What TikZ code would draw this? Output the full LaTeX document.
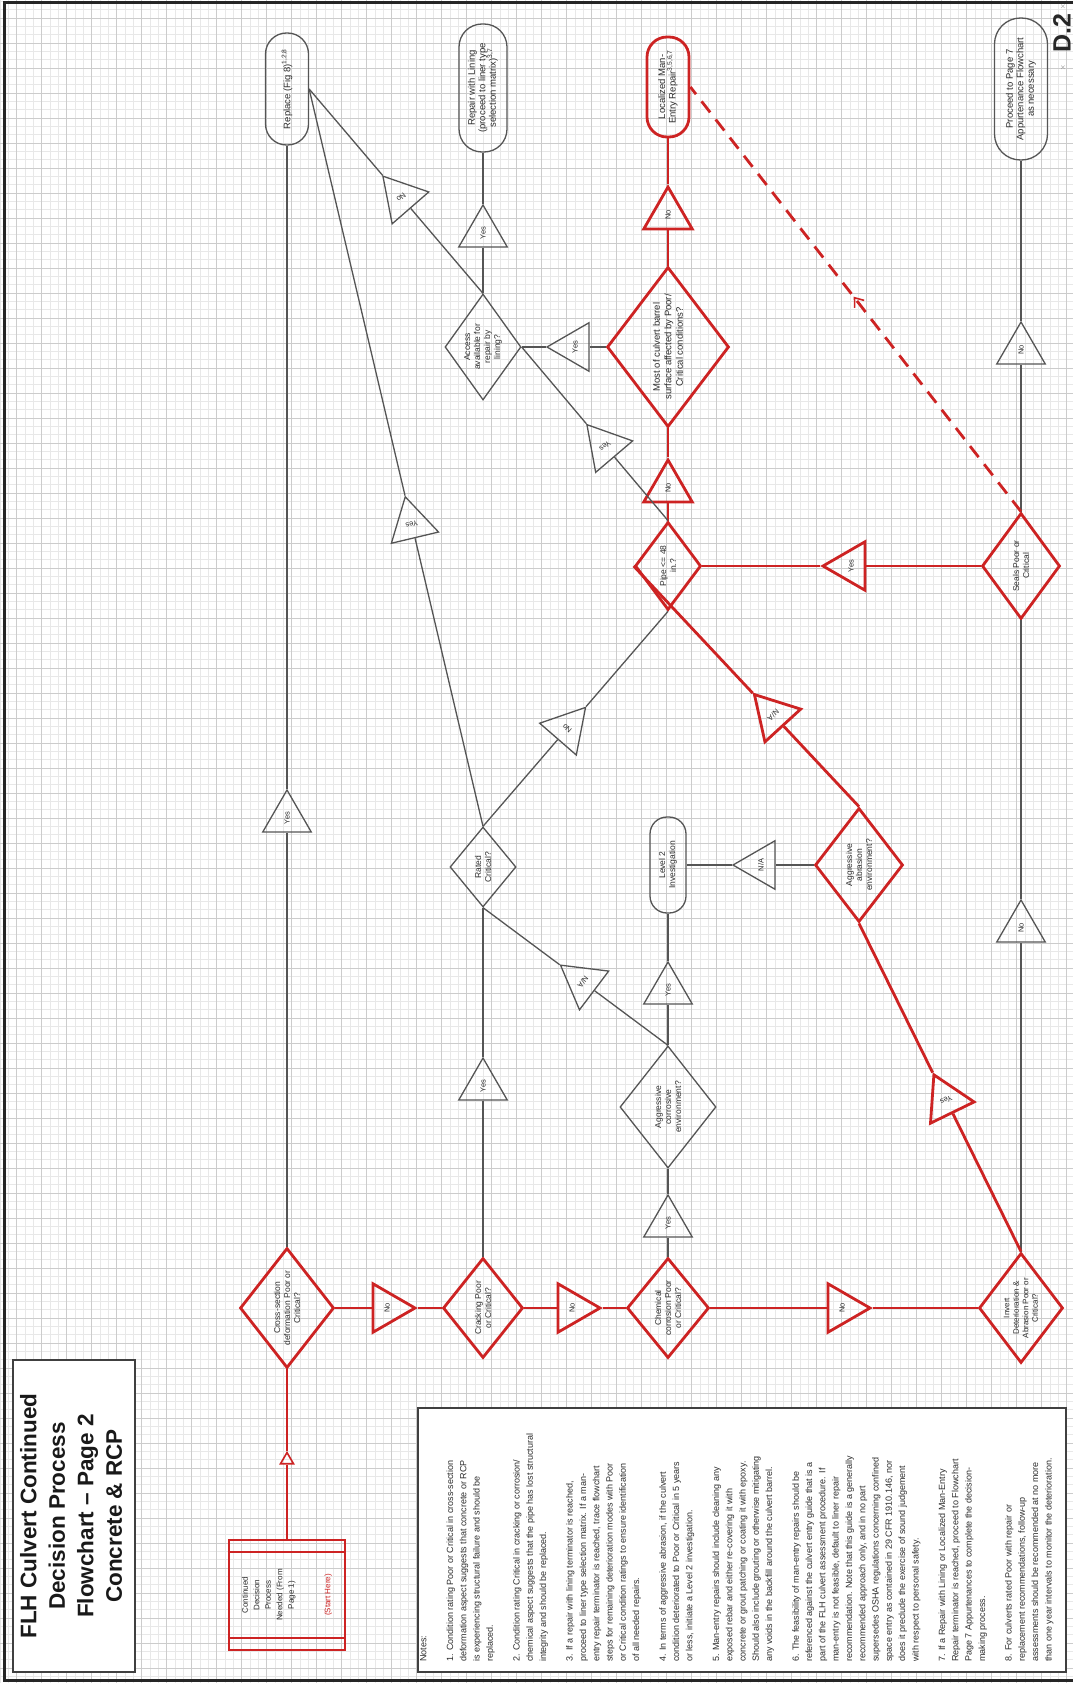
\documentclass[tikz,border=0pt]{standalone}
\usepackage{fontspec}
\setmainfont{Liberation Sans}
\usetikzlibrary{shapes.geometric,calc,decorations.markings}
\definecolor{fred}{RGB}{205,35,35}
\definecolor{fgrey}{RGB}{85,85,85}
\definecolor{ftext}{RGB}{45,45,45}
\begin{document}
\begin{tikzpicture}[x=1pt,y=-1pt,
  gminor/.style={draw=black!9, line width=0.5pt},
  gmajor/.style={draw=black!20, line width=0.7pt},
  gl/.style={draw=fgrey, line width=1.3pt},
  rl/.style={draw=fred, line width=2.8pt},
  gshape/.style={draw=fgrey, line width=1.3pt, inner sep=0pt},
  rshape/.style={draw=fred, line width=2.8pt, inner sep=0pt},
  dia/.style={diamond, inner sep=0pt},
  tri/.style={regular polygon, regular polygon sides=3, minimum size=56pt, inner sep=0pt},
  term/.style={rectangle, inner sep=0pt},
  ntxt/.style={rotate=90, align=center, text=ftext, font=\fontsize{8.5}{10}\selectfont, inner sep=0pt},
  tmtxt/.style={rotate=90, align=center, text=ftext, font=\fontsize{9.5}{10.5}\selectfont, inner sep=0pt},
  ttxt/.style={align=center, text=ftext, font=\fontsize{7.5}{9}\selectfont, inner sep=0pt},
  reddash/.style={draw=fred, line width=2.8pt, dash pattern=on 14pt off 9pt}
]
\useasboundingbox (0,0) rectangle (1073,1683);
\fill[white] (0,0) rectangle (1073,1683);
% grid
\foreach \i in {0,...,128} \draw[gminor] ({8.3333*\i},0) -- ({8.3333*\i},1683);
\foreach \i in {0,...,201} \draw[gminor] (0,{1.33+8.3333*\i}) -- (1073,{1.33+8.3333*\i});
\foreach \i in {0,...,42} \draw[gmajor] ({16.667+25*\i},0) -- ({16.667+25*\i},1683);
\foreach \i in {0,...,66} \draw[gmajor] (0,{18+25*\i}) -- (1073,{18+25*\i});
% page frame
\draw[line width=3pt, black!85] (1073,2.5) -- (4,2.5) -- (4,1680.5) -- (1073,1680.5);

% title
\node[draw=black!75, line width=1.2pt, fill=white, minimum width=122pt, minimum height=312pt, inner sep=0pt] (titlebox) at (74,1516) {};
\node[rotate=90, align=center, font=\fontsize{22.5}{28.5}\selectfont\bfseries, text=black!90] (title) at (71,1516) {FLH Culvert Continued\\Decision Process\\Flowchart \textendash{} Page 2\\Concrete \& RCP};

% notes
\node[draw=black!75, line width=1.2pt, fill=white, minimum width=648pt, minimum height=264pt, inner sep=0pt] (notesbox) at (742,1540) {};
\node[rotate=90, anchor=north west, align=left, inner sep=0pt, font=\fontsize{9}{13.3}\selectfont, text=ftext] (notes) at (420,1662) {Notes:\\[13.3pt]
1. Condition rating Poor or Critical in cross-section\\
deformation aspect suggests that concrete or RCP\\
is experiencing structural failure and should be\\
replaced.\\[13.3pt]
2. Condition rating Critical in cracking or corrosion/\\
chemical aspect suggests that the pipe has lost structural\\
integrity and should be replaced.\\[13.3pt]
3. If a repair with lining terminator is reached,\\
proceed to liner type selection matrix. If a man-\\
entry repair terminator is reached, trace flowchart\\
steps for remaining deterioration modes with Poor\\
or Critical condition ratings to ensure identification\\
of all needed repairs.\\[13.3pt]
4. In terms of aggressive abrasion, if the culvert\\
condition deteriorated to Poor or Critical in 5 years\\
or less, initiate a Level 2 investigation.\\[13.3pt]
5. Man-entry repairs should include cleaning any\\
exposed rebar and either re-covering it with\\
concrete or grout patching or coating it with epoxy.\\
Should also include grouting or otherwise mitigating\\
any voids in the backfill around the culvert barrel.\\[13.3pt]
6. The feasibility of man-entry repairs should be\\
referenced against the culvert entry guide that is a\\
part of the FLH culvert assessment procedure. If\\
man-entry is not feasible, default to liner repair\\
recommendation. Note that this guide is a generally\\
recommended approach only, and in no part\\
supersedes OSHA regulations concerning confined\\
space entry as contained in 29 CFR 1910.146, nor\\
does it preclude the exercise of sound judgement\\
with respect to personal safety.\\[13.3pt]
7. If a Repair with Lining or Localized Man-Entry\\
Repair terminator is reached, proceed to Flowchart\\
Page 7 Appurtenances to complete the decision-\\
making process.\\[13.3pt]
8. For culverts rated Poor with repair or\\
replacement recommendations, follow-up\\
assessments should be recommended at no more\\
than one year intervals to monitor the deterioration.};

% page label
\node[rotate=90, font=\fontsize{25}{25}\selectfont\bfseries, text=black!85, inner sep=0pt] (pagelabel) at (1062,33) {D.2};
\node[font=\fontsize{7}{7}\selectfont, text=black!55, inner sep=0pt] (xa) at (1063,7) {$\times$};
\node[font=\fontsize{7}{7}\selectfont, text=black!55, inner sep=0pt] (xb) at (1063,68) {$\times$};

% start box
\node[rectangle, draw=fred, line width=2.6pt, minimum width=116pt, minimum height=110pt, inner sep=0pt] (start) at (287,1595) {};
\draw[fred, line width=2pt] ($(start.north west)+(0,13)$) -- ($(start.north east)+(0,13)$);
\draw[fred, line width=2pt] ($(start.south west)+(0,-13)$) -- ($(start.south east)+(0,-13)$);
\node[rotate=90, align=center, font=\fontsize{8}{11.5}\selectfont, text=ftext] (starttxt) at (start) {Continued\\Decision\\Process\\Needed (From\\Page 1)\\[25pt]\textcolor{fred}{(Start Here)}};
\node[tri, rshape, minimum size=15pt, line width=1.6pt] (mk) at (287,1460) {};

% diamonds
\node[dia, rshape, minimum width=94pt, minimum height=120pt, label={[ntxt]center:{Cross-section\\deformation Poor or\\Critical?}}] (d1) at (287,1308) {};
\node[dia, rshape, minimum width=80pt, minimum height=100pt, label={[ntxt]center:{Cracking Poor\\or Critical?}}] (d2) at (483,1308) {};
\node[dia, rshape, minimum width=82pt, minimum height=100pt, label={[ntxt]center:{Chemical\\corrosion Poor\\or Critical?}}] (d3) at (668,1308) {};
\node[dia, rshape, minimum width=84pt, minimum height=110pt, label={[ntxt, font=\fontsize{8}{9.5}\selectfont]center:{Invert\\Deterioration \&\\Abrasion Poor or\\Critical?}}] (d4) at (1021,1308) {};
\node[dia, gshape, minimum width=66pt, minimum height=80pt, label={[ntxt]center:{Rated\\Critical?}}] (rated) at (483,867) {};
\node[dia, gshape, minimum width=96pt, minimum height=122pt, label={[ntxt]center:{Aggressive\\corrosive\\environment?}}] (aggcor) at (668,1107) {};
\node[dia, rshape, minimum width=88pt, minimum height=114pt, label={[ntxt]center:{Aggressive\\abrasion\\environment?}}] (aggabr) at (859,865) {};
\node[dia, rshape, minimum width=66pt, minimum height=88pt, label={[ntxt]center:{Pipe <= 48\\in.?}}] (pipe) at (668,566) {};
\node[dia, rshape, minimum width=78pt, minimum height=106pt, label={[ntxt]center:{Seals Poor or\\Critical}}] (seals) at (1021,566) {};
\node[dia, rshape, minimum width=122pt, minimum height=160pt, label={[ntxt, font=\fontsize{9.5}{11.5}\selectfont]center:{Most of culvert barrel\\surface affected by Poor/\\Critical conditions?}}] (most) at (668,347) {};
\node[dia, gshape, minimum width=76pt, minimum height=106pt, label={[ntxt]center:{Access\\available for\\repair by\\lining?}}] (access) at (483,347) {};

% terminals
\node[term, gshape, rounded corners=21pt, minimum width=43pt, minimum height=112pt, label={[tmtxt]center:{Replace (Fig 8)\textsuperscript{1,2,8}}}] (replace) at (287,89) {};
\node[term, gshape, rounded corners=23pt, minimum width=48pt, minimum height=128pt, label={[tmtxt]center:{Repair with Lining\\(proceed to liner type\\selection matrix)\textsuperscript{3,7}}}] (repair) at (483,88) {};
\node[term, rshape, rounded corners=20pt, minimum width=42pt, minimum height=100pt, label={[tmtxt]center:{Localized Man-\\Entry Repair\textsuperscript{3,5,6,7}}}] (localized) at (668,87) {};
\node[term, gshape, rounded corners=26pt, minimum width=53pt, minimum height=142pt, label={[tmtxt]center:{Proceed to Page 7\\Appurtenance Flowchart\\as necessary}}] (proceed) at (1021,89) {};
\node[term, gshape, rounded corners=17pt, minimum width=36pt, minimum height=96pt, label={[ntxt]center:{Level 2\\Investigation}}] (level2) at (668,865) {};

% straight triangles
\node[tri, rshape, shape border rotate=-90, label={[ttxt, rotate=90]center:No}] (tc1) at (387,1308) {};
\node[tri, rshape, shape border rotate=-90, label={[ttxt, rotate=90]center:No}] (tc2) at (572,1308) {};
\node[tri, rshape, shape border rotate=-90, label={[ttxt, rotate=90]center:No}] (tc3) at (842,1308) {};
\node[tri, gshape, label={[ttxt, rotate=90]center:Yes}] (tym) at (287,818) {};
\node[tri, gshape, label={[ttxt, rotate=90]center:Yes}] (ty2) at (483,1086) {};
\node[tri, gshape, label={[ttxt, rotate=90]center:Yes}] (ty3) at (668,1223) {};
\node[tri, gshape, label={[ttxt, rotate=90]center:Yes}] (tyl2) at (668,990) {};
\node[tri, gshape, shape border rotate=90, label={[ttxt, rotate=90]center:N/A}] (tnl2) at (761,865) {};
\node[tri, gshape, label={[ttxt, rotate=90]center:No}] (tnd4) at (1021,928) {};
\node[tri, gshape, label={[ttxt, rotate=90]center:No}] (tns) at (1021,350) {};
\node[tri, rshape, shape border rotate=90, label={[ttxt, rotate=90]center:Yes}] (tsp) at (851,566) {};
\node[tri, rshape, label={[ttxt, rotate=90]center:No}] (tpm) at (668,488) {};
\node[tri, rshape, label={[ttxt, rotate=90]center:No}] (tml) at (668,215) {};
\node[tri, gshape, label={[ttxt, rotate=90]center:Yes}] (tya) at (483,233) {};
\node[tri, gshape, shape border rotate=90, label={[ttxt, rotate=90]center:Yes}] (tma) at (575,347) {};

% diagonal triangles
\node[tri, gshape, shape border rotate=40.4, label={[ttxt, rotate=220.4]center:Yes}] (tpa) at ($(pipe.north)!0.43!(access.east)$) {};
\node[tri, gshape, shape border rotate=41, label={[ttxt, rotate=221]center:No}] (tar) at ($(access.north)!0.47!(replace.east)$) {};
\node[tri, gshape, shape border rotate=13.4, label={[ttxt, rotate=193.4]center:Yes}] (trr) at ($(rated.north)!0.41!(replace.east)$) {};
\node[tri, gshape, shape border rotate=-41, label={[ttxt, rotate=139]center:No}] (trp) at ($(rated.north)!0.455!(pipe.south)$) {};
\node[tri, gshape, shape border rotate=53, label={[ttxt, rotate=233]center:N/A}] (tac) at ($(aggcor.north)!0.46!(rated.south)$) {};
\node[tri, rshape, shape border rotate=26, label={[ttxt, rotate=206]center:Yes}] (tda) at ($(d4.north)!0.462!(aggabr.south)$) {};
\node[tri, rshape, shape border rotate=42.5, label={[ttxt, rotate=222.5]center:N/A}] (tap) at ($(aggabr.north)!0.38!(pipe.west)$) {};

% connectors
\draw[rl] (start) -- (mk) -- (d1);
\draw[rl] (d1) -- (tc1) -- (d2);
\draw[rl] (d2) -- (tc2) -- (d3);
\draw[rl] (d3) -- (tc3) -- (d4);
\draw[gl] (d1) -- (tym) -- (replace);
\draw[gl] (d2) -- (ty2) -- (rated);
\draw[gl] (d3) -- (ty3) -- (aggcor);
\draw[gl] (aggcor) -- (tyl2) -- (level2);
\draw[gl] (aggabr) -- (tnl2) -- (level2);
\draw[gl] (d4) -- (tnd4) -- (seals);
\draw[gl] (seals) -- (tns) -- (proceed);
\draw[rl] (seals) -- (tsp) -- (pipe);
\draw[rl] (pipe) -- (tpm) -- (most);
\draw[rl] (most) -- (tml) -- (localized);
\draw[gl] (access) -- (tya) -- (repair);
\draw[gl] (most) -- (tma) -- (access);
\draw[gl] (pipe.north) -- (tpa) -- (access.east);
\draw[gl] (access.north) -- (tar) -- (replace.east);
\draw[gl] (rated.north) -- (trr) -- (replace.east);
\draw[gl] (rated.north) -- (trp) -- (pipe.south);
\draw[gl] (aggcor.north) -- (tac) -- (rated.south);
\draw[rl] (d4.north) -- (tda) -- (aggabr.south);
\draw[rl] (aggabr.north) -- (tap) -- (pipe.west);
\draw[reddash, postaction={decorate}, decoration={markings, mark=at position 0.5 with {\draw[solid, fred, line width=1.6pt] (-6,6) -- (2,0) -- (-6,-6);}}] (seals.north) -- (localized.east);
\end{tikzpicture}
\end{document}
